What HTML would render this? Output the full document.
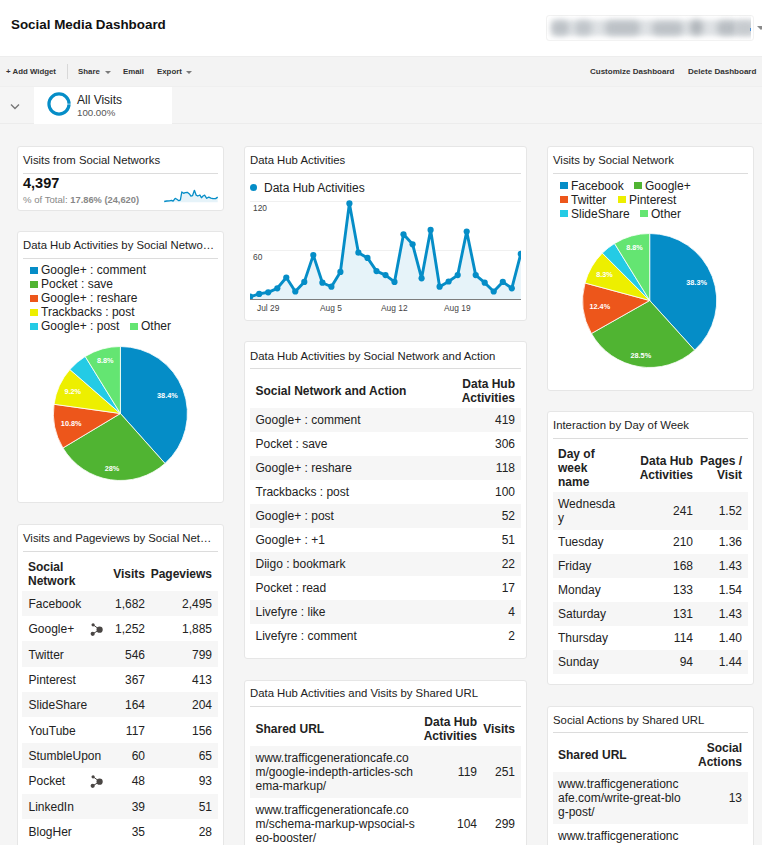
<!DOCTYPE html>
<html><head><meta charset="utf-8"><title>Social Media Dashboard</title>
<style>
html,body{margin:0;padding:0}
body{width:762px;height:845px;overflow:hidden;position:relative;background:#f5f5f5;font-family:"Liberation Sans",sans-serif;color:#222;}
.abs{position:absolute}
.card{position:absolute;background:#fff;border:1px solid #e6e6e6;border-radius:3px;box-sizing:border-box}
.ct{position:absolute;font-size:11.35px;color:#222;white-space:nowrap;line-height:13px}
.hr{position:absolute;height:1px;background:#dcdcdc}
.row{position:absolute}
.t{position:absolute;white-space:nowrap;color:#222}
.b{font-weight:bold}
.lg{position:absolute;font-size:12px;line-height:14px;white-space:nowrap;color:#222}
.sq{position:absolute;width:7.5px;height:7.5px;margin-top:0.8px}
.tb{position:absolute;font-size:7.85px;font-weight:bold;color:#333;white-space:nowrap;line-height:10px}
.ax{position:absolute;font-size:8.4px;color:#444;white-space:nowrap;line-height:10px}
</style></head><body>

<!-- header -->
<div class="abs" style="left:0;top:0;width:762px;height:56px;background:#fff"></div>
<div class="abs b" style="left:11px;top:17px;font-size:13.4px;line-height:16px;color:#111">Social Media Dashboard</div>
<div class="abs" style="left:546px;top:14.5px;width:208px;height:26px;border:1px solid #f2f2f2;border-radius:3px;box-sizing:border-box;background:#fff"></div>
<div class="abs" style="left:546px;top:15px;width:204.5px;height:25px;overflow:hidden">
<div class="abs" style="left:5px;top:5px;width:210px;height:16px;background:#dfe2e5;filter:blur(2.5px)"></div>
<div class="abs" style="left:6px;top:6px;width:17px;height:14px;background:#bcc1c6;filter:blur(3px);border-radius:6px"></div>
<div class="abs" style="left:29px;top:6px;width:17px;height:14px;background:#c0c5ca;filter:blur(3px);border-radius:6px"></div>
<div class="abs" style="left:59px;top:6px;width:35px;height:14px;background:#bcc1c6;filter:blur(3px);border-radius:6px"></div>
<div class="abs" style="left:106px;top:7px;width:31px;height:13px;background:#bcc1c6;filter:blur(3px);border-radius:6px"></div>
<div class="abs" style="left:144px;top:5px;width:13px;height:15px;background:#b2b7bc;filter:blur(3px);border-radius:6px"></div>
<div class="abs" style="left:171px;top:6px;width:20px;height:14px;background:#b8bdc2;filter:blur(3px);border-radius:6px"></div>
<div class="abs" style="left:189px;top:6px;width:20px;height:14px;background:#c6cace;filter:blur(3px);border-radius:6px"></div>
</div>
<div class="abs" style="left:750px;top:28px;width:1px;height:2.5px;background:#4a90d9"></div>
<div class="abs" style="left:756.5px;top:26px;width:0;height:0;border-left:4px solid transparent;border-right:4px solid transparent;border-top:4px solid #8a8a8a"></div>

<!-- toolbar -->
<div class="abs" style="left:0;top:56px;width:762px;height:30px;background:#f3f3f3;border-top:1px solid #ededed;box-sizing:border-box"></div>
<div class="tb" style="left:6px;top:67px">+ Add Widget</div>
<div class="abs" style="left:67px;top:64px;width:1px;height:15px;background:#d8d8d8"></div>
<div class="tb" style="left:78px;top:67px">Share</div>
<div class="abs" style="left:105px;top:70.5px;border-left:3px solid transparent;border-right:3px solid transparent;border-top:3px solid #7a7a7a"></div>
<div class="tb" style="left:123px;top:67px">Email</div>
<div class="tb" style="left:157px;top:67px">Export</div>
<div class="abs" style="left:186px;top:70.5px;border-left:3px solid transparent;border-right:3px solid transparent;border-top:3px solid #7a7a7a"></div>
<div class="tb" style="left:590px;top:67px;font-size:8px">Customize Dashboard</div>
<div class="tb" style="left:688px;top:67px;font-size:8.05px">Delete Dashboard</div>

<!-- segment bar -->
<div class="abs" style="left:0;top:86px;width:762px;height:38px;background:#f5f5f5;border-top:1px solid #efefef;border-bottom:1px solid #ececec;box-sizing:border-box"></div>
<div class="abs" style="left:34px;top:87px;width:138px;height:37px;background:#fff"></div>
<svg class="abs" style="left:8px;top:101.8px" width="14" height="10" viewBox="0 0 14 10"><path d="M3,2.5 L7,6.5 L11,2.5" fill="none" stroke="#777" stroke-width="1.4"/></svg>
<svg class="abs" style="left:45.7px;top:91.4px" width="26" height="26" viewBox="0 0 26 26"><circle cx="13" cy="13" r="10.05" fill="none" stroke="#058dc7" stroke-width="3.2"/><path d="M21,13.1 L25,13.1" stroke="#fff" stroke-width="0.6"/></svg>
<div class="abs" style="left:77px;top:93px;font-size:12px;line-height:14px;color:#222">All Visits</div>
<div class="abs" style="left:77px;top:107.2px;font-size:9.7px;line-height:12px;color:#555">100.00%</div>

<!-- COL 1 -->
<div class="card" style="left:17px;top:146px;width:207px;height:65px"></div>
<div class="ct" style="left:23px;top:154px">Visits from Social Networks</div>
<div class="hr" style="left:23px;top:173px;width:195px"></div>
<div class="abs b" style="left:23px;top:174.5px;font-size:14.5px;line-height:16px;color:#111">4,397</div>
<div class="abs" style="left:23px;top:193.5px;font-size:9.6px;line-height:11px;color:#888">% of Total: <b style="font-size:9.3px">17.86% (24,620)</b></div>
<svg class="abs" style="left:0;top:0" width="762" height="845"><path d="M164.2,202.3 L164.2,201.5 L166.8,201.0 L169.4,200.8 L171.5,200.4 L173.1,201.2 L175.2,198.3 L176.8,199.2 L178.9,200.7 L180.4,199.9 L181.8,192.0 L183.6,193.3 L185.2,192.6 L187.3,192.3 L189.4,193.9 L190.9,196.2 L192.5,195.7 L194.4,190.3 L196.2,195.2 L197.8,196.0 L199.9,195.0 L201.4,197.8 L203.0,196.0 L204.6,195.2 L206.7,198.3 L208.8,197.1 L210.9,198.1 L213.0,198.6 L215.6,198.6 L217.7,197.1 L217.7,202.3 Z" fill="#e6f3f9"/><polyline points="164.2,201.5 166.8,201.0 169.4,200.8 171.5,200.4 173.1,201.2 175.2,198.3 176.8,199.2 178.9,200.7 180.4,199.9 181.8,192.0 183.6,193.3 185.2,192.6 187.3,192.3 189.4,193.9 190.9,196.2 192.5,195.7 194.4,190.3 196.2,195.2 197.8,196.0 199.9,195.0 201.4,197.8 203.0,196.0 204.6,195.2 206.7,198.3 208.8,197.1 210.9,198.1 213.0,198.6 215.6,198.6 217.7,197.1" fill="none" stroke="#058dc7" stroke-width="1.3" stroke-linejoin="round"/></svg>

<div class="card" style="left:17px;top:231px;width:207px;height:272px"></div>
<div class="ct" style="left:23px;top:239px">Data Hub Activities by Social Netwo…</div>
<div class="hr" style="left:23px;top:258px;width:195px"></div>
<div class="sq" style="left:30px;top:266px;background:#058dc7"></div><div class="lg" style="left:41px;top:263px">Google+ : comment</div>
<div class="sq" style="left:30px;top:280px;background:#50b432"></div><div class="lg" style="left:41px;top:277px">Pocket : save</div>
<div class="sq" style="left:30px;top:294px;background:#ed561b"></div><div class="lg" style="left:41px;top:291px">Google+ : reshare</div>
<div class="sq" style="left:30px;top:308px;background:#edef00"></div><div class="lg" style="left:41px;top:305px">Trackbacks : post</div>
<div class="sq" style="left:30px;top:322px;background:#24cbe5"></div><div class="lg" style="left:41px;top:319px">Google+ : post</div>
<div class="sq" style="left:130px;top:322px;background:#64e572"></div><div class="lg" style="left:141px;top:319px">Other</div>

<div class="card" style="left:17px;top:524px;width:207px;height:340px"></div>
<div class="ct" style="left:23px;top:532px">Visits and Pageviews by Social Net…</div>
<div class="hr" style="left:23px;top:551px;width:195px"></div>
<div class="t b" style="left:28px;top:560px;font-size:12px;line-height:14px">Social<br>Network</div>
<div class="t b r" style="right:617px;top:567px;font-size:12px;line-height:14px">Visits</div>
<div class="t b r" style="right:550px;top:567px;font-size:12px;line-height:14px">Pageviews</div>
<div class="row" style="left:22px;top:590.7px;width:196px;height:25.35px;background:#f6f6f6"></div>
<div class="t" style="left:28.5px;top:592.0px;line-height:25.35px;font-size:12px">Facebook</div>
<div class="t r" style="right:617px;top:592.0px;line-height:25.35px;font-size:12px">1,682</div>
<div class="t r" style="right:550px;top:592.0px;line-height:25.35px;font-size:12px">2,495</div>
<div class="row" style="left:22px;top:616.0500000000001px;width:196px;height:25.35px;background:#fff"></div>
<div class="t" style="left:28.5px;top:617.35px;line-height:25.35px;font-size:12px">Google+</div>
<div class="t r" style="right:617px;top:617.35px;line-height:25.35px;font-size:12px">1,252</div>
<div class="t r" style="right:550px;top:617.35px;line-height:25.35px;font-size:12px">1,885</div>
<div class="row" style="left:22px;top:641.4000000000001px;width:196px;height:25.35px;background:#f6f6f6"></div>
<div class="t" style="left:28.5px;top:642.7px;line-height:25.35px;font-size:12px">Twitter</div>
<div class="t r" style="right:617px;top:642.7px;line-height:25.35px;font-size:12px">546</div>
<div class="t r" style="right:550px;top:642.7px;line-height:25.35px;font-size:12px">799</div>
<div class="row" style="left:22px;top:666.75px;width:196px;height:25.35px;background:#fff"></div>
<div class="t" style="left:28.5px;top:668.05px;line-height:25.35px;font-size:12px">Pinterest</div>
<div class="t r" style="right:617px;top:668.05px;line-height:25.35px;font-size:12px">367</div>
<div class="t r" style="right:550px;top:668.05px;line-height:25.35px;font-size:12px">413</div>
<div class="row" style="left:22px;top:692.1px;width:196px;height:25.35px;background:#f6f6f6"></div>
<div class="t" style="left:28.5px;top:693.4px;line-height:25.35px;font-size:12px">SlideShare</div>
<div class="t r" style="right:617px;top:693.4px;line-height:25.35px;font-size:12px">164</div>
<div class="t r" style="right:550px;top:693.4px;line-height:25.35px;font-size:12px">204</div>
<div class="row" style="left:22px;top:717.45px;width:196px;height:25.35px;background:#fff"></div>
<div class="t" style="left:28.5px;top:718.75px;line-height:25.35px;font-size:12px">YouTube</div>
<div class="t r" style="right:617px;top:718.75px;line-height:25.35px;font-size:12px">117</div>
<div class="t r" style="right:550px;top:718.75px;line-height:25.35px;font-size:12px">156</div>
<div class="row" style="left:22px;top:742.8000000000001px;width:196px;height:25.35px;background:#f6f6f6"></div>
<div class="t" style="left:28.5px;top:744.1px;line-height:25.35px;font-size:12px">StumbleUpon</div>
<div class="t r" style="right:617px;top:744.1px;line-height:25.35px;font-size:12px">60</div>
<div class="t r" style="right:550px;top:744.1px;line-height:25.35px;font-size:12px">65</div>
<div class="row" style="left:22px;top:768.1500000000001px;width:196px;height:25.35px;background:#fff"></div>
<div class="t" style="left:28.5px;top:769.45px;line-height:25.35px;font-size:12px">Pocket</div>
<div class="t r" style="right:617px;top:769.45px;line-height:25.35px;font-size:12px">48</div>
<div class="t r" style="right:550px;top:769.45px;line-height:25.35px;font-size:12px">93</div>
<div class="row" style="left:22px;top:793.5px;width:196px;height:25.35px;background:#f6f6f6"></div>
<div class="t" style="left:28.5px;top:794.8px;line-height:25.35px;font-size:12px">LinkedIn</div>
<div class="t r" style="right:617px;top:794.8px;line-height:25.35px;font-size:12px">39</div>
<div class="t r" style="right:550px;top:794.8px;line-height:25.35px;font-size:12px">51</div>
<div class="row" style="left:22px;top:818.85px;width:196px;height:25.35px;background:#fff"></div>
<div class="t" style="left:28.5px;top:820.15px;line-height:25.35px;font-size:12px">BlogHer</div>
<div class="t r" style="right:617px;top:820.15px;line-height:25.35px;font-size:12px">35</div>
<div class="t r" style="right:550px;top:820.15px;line-height:25.35px;font-size:12px">28</div>
<svg class="abs" style="left:90px;top:623px" width="14" height="14" viewBox="0 0 14 14"><path d="M3.1,1.7 L9.7,6.7 L2.6,10.9" stroke="#4a4644" stroke-width="1" fill="none"/><circle cx="3.1" cy="1.8" r="1.6" fill="#4a4644"/><circle cx="2.7" cy="10.8" r="2.1" fill="#4a4644"/><circle cx="9.6" cy="6.7" r="3.1" fill="#4a4644"/></svg>
<svg class="abs" style="left:90px;top:775px" width="14" height="14" viewBox="0 0 14 14"><path d="M3.1,1.7 L9.7,6.7 L2.6,10.9" stroke="#4a4644" stroke-width="1" fill="none"/><circle cx="3.1" cy="1.8" r="1.6" fill="#4a4644"/><circle cx="2.7" cy="10.8" r="2.1" fill="#4a4644"/><circle cx="9.6" cy="6.7" r="3.1" fill="#4a4644"/></svg>

<!-- COL 2 -->
<div class="card" style="left:244px;top:146px;width:283px;height:175px"></div>
<div class="ct" style="left:250px;top:154px">Data Hub Activities</div>
<div class="hr" style="left:250px;top:173px;width:271px"></div>
<div class="abs" style="left:250px;top:184px;width:7px;height:7px;border-radius:4px;background:#058dc7"></div>
<div class="lg" style="left:264px;top:180.5px">Data Hub Activities</div>
<div class="abs" style="left:250px;top:201px;width:271px;height:1px;background:#f0f0f0"></div>
<div class="abs" style="left:250px;top:250px;width:271px;height:1px;background:#f0f0f0"></div>
<svg class="abs" style="left:0;top:0" width="762" height="845"><defs><clipPath id="lc"><rect x="250" y="190" width="271" height="112"/></clipPath></defs><g clip-path="url(#lc)"><path d="M250.2,299.2 L250.2,296.7 L259.2,293.9 L268.2,292.3 L277.3,288.3 L286.3,277.5 L295.3,291.5 L304.3,281.9 L313.3,255.1 L322.4,282.7 L331.4,286.7 L340.4,271.9 L349.4,203.4 L358.4,252.7 L367.5,257.9 L376.5,271.1 L385.5,275.1 L394.5,281.9 L403.5,234.3 L412.6,244.3 L421.6,278.3 L430.6,229.9 L439.6,286.7 L448.6,281.5 L457.7,275.1 L466.7,231.5 L475.7,275.1 L484.7,282.7 L493.7,291.5 L502.8,281.9 L511.8,288.3 L520.8,253.9 L520.8,299.2 Z" fill="#e6f3f9"/>
<polyline points="250.2,296.7 259.2,293.9 268.2,292.3 277.3,288.3 286.3,277.5 295.3,291.5 304.3,281.9 313.3,255.1 322.4,282.7 331.4,286.7 340.4,271.9 349.4,203.4 358.4,252.7 367.5,257.9 376.5,271.1 385.5,275.1 394.5,281.9 403.5,234.3 412.6,244.3 421.6,278.3 430.6,229.9 439.6,286.7 448.6,281.5 457.7,275.1 466.7,231.5 475.7,275.1 484.7,282.7 493.7,291.5 502.8,281.9 511.8,288.3 520.8,253.9" fill="none" stroke="#058dc7" stroke-width="2.9" stroke-linejoin="round"/>
<circle cx="250.2" cy="296.7" r="3.1" fill="#058dc7"/><circle cx="259.2" cy="293.9" r="3.1" fill="#058dc7"/><circle cx="268.2" cy="292.3" r="3.1" fill="#058dc7"/><circle cx="277.3" cy="288.3" r="3.1" fill="#058dc7"/><circle cx="286.3" cy="277.5" r="3.1" fill="#058dc7"/><circle cx="295.3" cy="291.5" r="3.1" fill="#058dc7"/><circle cx="304.3" cy="281.9" r="3.1" fill="#058dc7"/><circle cx="313.3" cy="255.1" r="3.1" fill="#058dc7"/><circle cx="322.4" cy="282.7" r="3.1" fill="#058dc7"/><circle cx="331.4" cy="286.7" r="3.1" fill="#058dc7"/><circle cx="340.4" cy="271.9" r="3.1" fill="#058dc7"/><circle cx="349.4" cy="203.4" r="3.1" fill="#058dc7"/><circle cx="358.4" cy="252.7" r="3.1" fill="#058dc7"/><circle cx="367.5" cy="257.9" r="3.1" fill="#058dc7"/><circle cx="376.5" cy="271.1" r="3.1" fill="#058dc7"/><circle cx="385.5" cy="275.1" r="3.1" fill="#058dc7"/><circle cx="394.5" cy="281.9" r="3.1" fill="#058dc7"/><circle cx="403.5" cy="234.3" r="3.1" fill="#058dc7"/><circle cx="412.6" cy="244.3" r="3.1" fill="#058dc7"/><circle cx="421.6" cy="278.3" r="3.1" fill="#058dc7"/><circle cx="430.6" cy="229.9" r="3.1" fill="#058dc7"/><circle cx="439.6" cy="286.7" r="3.1" fill="#058dc7"/><circle cx="448.6" cy="281.5" r="3.1" fill="#058dc7"/><circle cx="457.7" cy="275.1" r="3.1" fill="#058dc7"/><circle cx="466.7" cy="231.5" r="3.1" fill="#058dc7"/><circle cx="475.7" cy="275.1" r="3.1" fill="#058dc7"/><circle cx="484.7" cy="282.7" r="3.1" fill="#058dc7"/><circle cx="493.7" cy="291.5" r="3.1" fill="#058dc7"/><circle cx="502.8" cy="281.9" r="3.1" fill="#058dc7"/><circle cx="511.8" cy="288.3" r="3.1" fill="#058dc7"/><circle cx="520.8" cy="253.9" r="3.1" fill="#058dc7"/></g></svg>
<div class="abs" style="left:250px;top:299px;width:271px;height:1px;background:#7d7d7d"></div>
<div class="ax" style="left:253px;top:203px">120</div>
<div class="ax" style="left:253px;top:252px">60</div>
<div class="ax" style="left:257px;top:303px">Jul 29</div>
<div class="ax" style="left:320px;top:303px">Aug 5</div>
<div class="ax" style="left:381px;top:303px">Aug 12</div>
<div class="ax" style="left:444px;top:303px">Aug 19</div>

<div class="card" style="left:244px;top:341px;width:283px;height:318px"></div>
<div class="ct" style="left:250px;top:349.8px">Data Hub Activities by Social Network and Action</div>
<div class="hr" style="left:250px;top:368px;width:271px"></div>
<div class="t b" style="left:255.5px;top:384px;font-size:12px;line-height:14px">Social Network and Action</div>
<div class="t b r" style="right:247px;top:377px;font-size:12px;line-height:14px;text-align:right">Data Hub<br>Activities</div>
<div class="row" style="left:250px;top:407.5px;width:271px;height:24px;background:#f6f6f6"></div>
<div class="t" style="left:255.5px;top:408.0px;line-height:24px;font-size:12px">Google+ : comment</div>
<div class="t r" style="right:247px;top:408.0px;line-height:24px;font-size:12px">419</div>
<div class="row" style="left:250px;top:431.5px;width:271px;height:24px;background:#fff"></div>
<div class="t" style="left:255.5px;top:432.0px;line-height:24px;font-size:12px">Pocket : save</div>
<div class="t r" style="right:247px;top:432.0px;line-height:24px;font-size:12px">306</div>
<div class="row" style="left:250px;top:455.5px;width:271px;height:24px;background:#f6f6f6"></div>
<div class="t" style="left:255.5px;top:456.0px;line-height:24px;font-size:12px">Google+ : reshare</div>
<div class="t r" style="right:247px;top:456.0px;line-height:24px;font-size:12px">118</div>
<div class="row" style="left:250px;top:479.5px;width:271px;height:24px;background:#fff"></div>
<div class="t" style="left:255.5px;top:480.0px;line-height:24px;font-size:12px">Trackbacks : post</div>
<div class="t r" style="right:247px;top:480.0px;line-height:24px;font-size:12px">100</div>
<div class="row" style="left:250px;top:503.5px;width:271px;height:24px;background:#f6f6f6"></div>
<div class="t" style="left:255.5px;top:504.0px;line-height:24px;font-size:12px">Google+ : post</div>
<div class="t r" style="right:247px;top:504.0px;line-height:24px;font-size:12px">52</div>
<div class="row" style="left:250px;top:527.5px;width:271px;height:24px;background:#fff"></div>
<div class="t" style="left:255.5px;top:528.0px;line-height:24px;font-size:12px">Google+ : +1</div>
<div class="t r" style="right:247px;top:528.0px;line-height:24px;font-size:12px">51</div>
<div class="row" style="left:250px;top:551.5px;width:271px;height:24px;background:#f6f6f6"></div>
<div class="t" style="left:255.5px;top:552.0px;line-height:24px;font-size:12px">Diigo : bookmark</div>
<div class="t r" style="right:247px;top:552.0px;line-height:24px;font-size:12px">22</div>
<div class="row" style="left:250px;top:575.5px;width:271px;height:24px;background:#fff"></div>
<div class="t" style="left:255.5px;top:576.0px;line-height:24px;font-size:12px">Pocket : read</div>
<div class="t r" style="right:247px;top:576.0px;line-height:24px;font-size:12px">17</div>
<div class="row" style="left:250px;top:599.5px;width:271px;height:24px;background:#f6f6f6"></div>
<div class="t" style="left:255.5px;top:600.0px;line-height:24px;font-size:12px">Livefyre : like</div>
<div class="t r" style="right:247px;top:600.0px;line-height:24px;font-size:12px">4</div>
<div class="row" style="left:250px;top:623.5px;width:271px;height:24px;background:#fff"></div>
<div class="t" style="left:255.5px;top:624.0px;line-height:24px;font-size:12px">Livefyre : comment</div>
<div class="t r" style="right:247px;top:624.0px;line-height:24px;font-size:12px">2</div>

<div class="card" style="left:244px;top:679.5px;width:283px;height:200px"></div>
<div class="ct" style="left:250px;top:687px">Data Hub Activities and Visits by Shared URL</div>
<div class="hr" style="left:250px;top:706px;width:271px"></div>
<div class="t b" style="left:255.5px;top:722px;font-size:12px;line-height:14px">Shared URL</div>
<div class="t b r" style="right:285px;top:715px;font-size:12px;line-height:14px;text-align:right">Data Hub<br>Activities</div>
<div class="t b r" style="right:247px;top:722px;font-size:12px;line-height:14px">Visits</div>
<div class="row" style="left:250px;top:746px;width:271px;height:52px;background:#f6f6f6"></div>
<div class="t" style="left:255.5px;top:751px;font-size:12px;line-height:14px">www.trafficgenerationcafe.co<br>m/google-indepth-articles-sch<br>ema-markup/</div>
<div class="t r" style="right:285px;top:765px;font-size:12px;line-height:14px">119</div>
<div class="t r" style="right:247px;top:765px;font-size:12px;line-height:14px">251</div>
<div class="t" style="left:255.5px;top:803px;font-size:12px;line-height:14px">www.trafficgenerationcafe.co<br>m/schema-markup-wpsocial-s<br>eo-booster/</div>
<div class="t r" style="right:285px;top:817px;font-size:12px;line-height:14px">104</div>
<div class="t r" style="right:247px;top:817px;font-size:12px;line-height:14px">299</div>

<!-- COL 3 -->
<div class="card" style="left:547px;top:146px;width:207px;height:245px"></div>
<div class="ct" style="left:553px;top:154px">Visits by Social Network</div>
<div class="hr" style="left:553px;top:173px;width:195px"></div>
<div class="sq" style="left:560px;top:181px;background:#058dc7"></div><div class="lg" style="left:571px;top:178.5px">Facebook</div>
<div class="sq" style="left:634px;top:181px;background:#50b432"></div><div class="lg" style="left:645px;top:178.5px">Google+</div>
<div class="sq" style="left:560px;top:195px;background:#ed561b"></div><div class="lg" style="left:571px;top:192.5px">Twitter</div>
<div class="sq" style="left:618px;top:195px;background:#edef00"></div><div class="lg" style="left:629px;top:192.5px">Pinterest</div>
<div class="sq" style="left:560px;top:209px;background:#24cbe5"></div><div class="lg" style="left:571px;top:206.5px">SlideShare</div>
<div class="sq" style="left:640px;top:209px;background:#64e572"></div><div class="lg" style="left:651px;top:206.5px">Other</div>

<div class="card" style="left:547px;top:411px;width:207px;height:274px"></div>
<div class="ct" style="left:553px;top:419px">Interaction by Day of Week</div>
<div class="hr" style="left:553px;top:438px;width:195px"></div>
<div class="t b" style="left:558px;top:447px;font-size:12px;line-height:14px">Day of<br>week<br>name</div>
<div class="t b r" style="right:69px;top:454px;font-size:12px;line-height:14px;text-align:right">Data Hub<br>Activities</div>
<div class="t b r" style="right:20px;top:454px;font-size:12px;line-height:14px;text-align:right">Pages /<br>Visit</div>
<div class="row" style="left:553px;top:491.5px;width:195px;height:38.5px;background:#f6f6f6"></div>
<div class="t" style="left:558px;top:497px;font-size:12px;line-height:14px">Wednesda<br>y</div>
<div class="t r" style="right:69px;top:504px;font-size:12px;line-height:14px">241</div>
<div class="t r" style="right:20px;top:504px;font-size:12px;line-height:14px">1.52</div>
<div class="row" style="left:553px;top:530px;width:195px;height:24px;background:#fff"></div>
<div class="t" style="left:558px;top:530px;line-height:24px;font-size:12px">Tuesday</div>
<div class="t r" style="right:69px;top:530px;line-height:24px;font-size:12px">210</div>
<div class="t r" style="right:20px;top:530px;line-height:24px;font-size:12px">1.36</div>
<div class="row" style="left:553px;top:554px;width:195px;height:24px;background:#f6f6f6"></div>
<div class="t" style="left:558px;top:554px;line-height:24px;font-size:12px">Friday</div>
<div class="t r" style="right:69px;top:554px;line-height:24px;font-size:12px">168</div>
<div class="t r" style="right:20px;top:554px;line-height:24px;font-size:12px">1.43</div>
<div class="row" style="left:553px;top:578px;width:195px;height:24px;background:#fff"></div>
<div class="t" style="left:558px;top:578px;line-height:24px;font-size:12px">Monday</div>
<div class="t r" style="right:69px;top:578px;line-height:24px;font-size:12px">133</div>
<div class="t r" style="right:20px;top:578px;line-height:24px;font-size:12px">1.54</div>
<div class="row" style="left:553px;top:602px;width:195px;height:24px;background:#f6f6f6"></div>
<div class="t" style="left:558px;top:602px;line-height:24px;font-size:12px">Saturday</div>
<div class="t r" style="right:69px;top:602px;line-height:24px;font-size:12px">131</div>
<div class="t r" style="right:20px;top:602px;line-height:24px;font-size:12px">1.43</div>
<div class="row" style="left:553px;top:626px;width:195px;height:24px;background:#fff"></div>
<div class="t" style="left:558px;top:626px;line-height:24px;font-size:12px">Thursday</div>
<div class="t r" style="right:69px;top:626px;line-height:24px;font-size:12px">114</div>
<div class="t r" style="right:20px;top:626px;line-height:24px;font-size:12px">1.40</div>
<div class="row" style="left:553px;top:650px;width:195px;height:24px;background:#f6f6f6"></div>
<div class="t" style="left:558px;top:650px;line-height:24px;font-size:12px">Sunday</div>
<div class="t r" style="right:69px;top:650px;line-height:24px;font-size:12px">94</div>
<div class="t r" style="right:20px;top:650px;line-height:24px;font-size:12px">1.44</div>

<div class="card" style="left:547px;top:705.5px;width:207px;height:200px"></div>
<div class="ct" style="left:553px;top:714px">Social Actions by Shared URL</div>
<div class="hr" style="left:553px;top:732px;width:195px"></div>
<div class="t b" style="left:558px;top:748px;font-size:12px;line-height:14px">Shared URL</div>
<div class="t b r" style="right:20px;top:741px;font-size:12px;line-height:14px;text-align:right">Social<br>Actions</div>
<div class="row" style="left:553px;top:772px;width:195px;height:52px;background:#f6f6f6"></div>
<div class="t" style="left:558px;top:777px;font-size:12px;line-height:14px">www.trafficgenerationc<br>afe.com/write-great-blo<br>g-post/</div>
<div class="t r" style="right:20px;top:791px;font-size:12px;line-height:14px">13</div>
<div class="t" style="left:558px;top:829px;font-size:12px;line-height:14px">www.trafficgenerationc<br>afe.com/</div>

<svg class="abs" style="left:0;top:0" width="762" height="845"><path d="M120.40,413.50 L120.40,346.50 A67,67 0 0 1 165.02,463.48 Z" fill="#058dc7" stroke="#fff" stroke-width="0.8" stroke-linejoin="round"/>
<text x="167.4" y="398.1" text-anchor="middle" font-size="7.3" font-weight="bold" fill="#fff" font-family="Liberation Sans, sans-serif">38.4%</text>
<path d="M120.40,413.50 L165.02,463.48 A67,67 0 0 1 62.95,447.97 Z" fill="#50b432" stroke="#fff" stroke-width="0.8" stroke-linejoin="round"/>
<text x="112.0" y="471.0" text-anchor="middle" font-size="7.3" font-weight="bold" fill="#fff" font-family="Liberation Sans, sans-serif">28%</text>
<path d="M120.40,413.50 L62.95,447.97 A67,67 0 0 1 54.04,404.27 Z" fill="#ed561b" stroke="#fff" stroke-width="0.8" stroke-linejoin="round"/>
<text x="71.2" y="426.0" text-anchor="middle" font-size="7.3" font-weight="bold" fill="#fff" font-family="Liberation Sans, sans-serif">10.8%</text>
<path d="M120.40,413.50 L54.04,404.27 A67,67 0 0 1 69.87,369.51 Z" fill="#edef00" stroke="#fff" stroke-width="0.8" stroke-linejoin="round"/>
<text x="72.8" y="394.3" text-anchor="middle" font-size="7.3" font-weight="bold" fill="#fff" font-family="Liberation Sans, sans-serif">9.2%</text>
<path d="M120.40,413.50 L69.87,369.51 A67,67 0 0 1 85.21,356.48 Z" fill="#24cbe5" stroke="#fff" stroke-width="0.8" stroke-linejoin="round"/>
<path d="M120.40,413.50 L85.21,356.48 A67,67 0 0 1 120.40,346.50 Z" fill="#64e572" stroke="#fff" stroke-width="0.8" stroke-linejoin="round"/>
<text x="105.2" y="362.5" text-anchor="middle" font-size="7.3" font-weight="bold" fill="#fff" font-family="Liberation Sans, sans-serif">8.8%</text><path d="M649.70,300.50 L649.70,233.50 A67,67 0 0 1 694.64,350.20 Z" fill="#058dc7" stroke="#fff" stroke-width="0.8" stroke-linejoin="round"/>
<text x="696.6" y="284.9" text-anchor="middle" font-size="7.3" font-weight="bold" fill="#fff" font-family="Liberation Sans, sans-serif">38.3%</text>
<path d="M649.70,300.50 L694.64,350.20 A67,67 0 0 1 591.40,333.51 Z" fill="#50b432" stroke="#fff" stroke-width="0.8" stroke-linejoin="round"/>
<text x="640.8" y="357.9" text-anchor="middle" font-size="7.3" font-weight="bold" fill="#fff" font-family="Liberation Sans, sans-serif">28.5%</text>
<path d="M649.70,300.50 L591.40,333.51 A67,67 0 0 1 585.02,283.02 Z" fill="#ed561b" stroke="#fff" stroke-width="0.8" stroke-linejoin="round"/>
<text x="599.8" y="309.3" text-anchor="middle" font-size="7.3" font-weight="bold" fill="#fff" font-family="Liberation Sans, sans-serif">12.4%</text>
<path d="M649.70,300.50 L585.02,283.02 A67,67 0 0 1 602.32,253.12 Z" fill="#edef00" stroke="#fff" stroke-width="0.8" stroke-linejoin="round"/>
<text x="604.5" y="276.8" text-anchor="middle" font-size="7.3" font-weight="bold" fill="#fff" font-family="Liberation Sans, sans-serif">8.3%</text>
<path d="M649.70,300.50 L602.32,253.12 A67,67 0 0 1 614.51,243.48 Z" fill="#24cbe5" stroke="#fff" stroke-width="0.8" stroke-linejoin="round"/>
<path d="M649.70,300.50 L614.51,243.48 A67,67 0 0 1 649.70,233.50 Z" fill="#64e572" stroke="#fff" stroke-width="0.8" stroke-linejoin="round"/>
<text x="634.5" y="249.5" text-anchor="middle" font-size="7.3" font-weight="bold" fill="#fff" font-family="Liberation Sans, sans-serif">8.8%</text></svg>
</body></html>
